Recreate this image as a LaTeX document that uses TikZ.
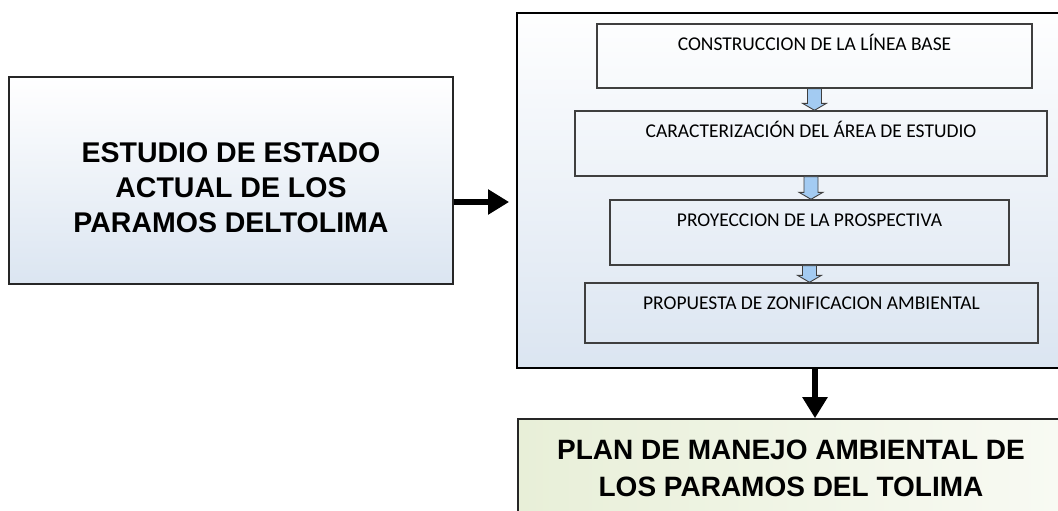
\documentclass[tikz,border=0pt]{standalone}
\usepackage{fontspec}
\setmainfont{Liberation Sans}
\newfontfamily\calibri{Carlito}
\usetikzlibrary{calc,arrows.meta}

\definecolor{paleblue}{HTML}{DBE5F1}
\definecolor{palegreen}{HTML}{E8EFD8}
\definecolor{edgegray}{HTML}{3F3F3F}
\definecolor{tipblue}{HTML}{A3CBF2}

\tikzset{
  studybox/.style={draw=black!85, line width=1.6pt, top color=white, bottom color=paleblue, inner sep=0pt},
  framebox/.style={draw=black, line width=1.8pt, top color=white!97!paleblue, bottom color=paleblue, inner sep=0pt},
  stagebox/.style={draw=edgegray, line width=1.4pt, inner sep=0pt},
  planbox/.style={draw=black!85, line width=1.6pt, left color=palegreen, right color=white!70!palegreen, inner sep=0pt},
  titletext/.style={anchor=center, align=center, font=\bfseries\fontsize{28.5}{35}\selectfont},
  stagetext/.style={anchor=north, inner sep=0pt, text height=14pt, text depth=4pt, font=\calibri\fontsize{19.5}{22}\selectfont, yshift=-13.3pt},
  bigarrow/.style={line width=6.5pt, -{Triangle[length=21pt,width=24pt]}},
  smallarrow/.style={draw=edgegray, line width=0.9pt, fill=tipblue, line join=miter}
}

\begin{document}
\begin{tikzpicture}[x=1pt,y=-1pt]
  \useasboundingbox (0,0) rectangle (1058,511);
  \clip (0,0) rectangle (1058,511);

  % left box
  \node[studybox, minimum width=444pt, minimum height=207pt,
    label={[titletext, yshift=-7pt]center:ESTUDIO DE ESTADO\\ACTUAL DE LOS\\PARAMOS DELTOLIMA}]
    (estudio) at (231,180.5) {};

  % frame with the four stages
  \node[framebox, minimum width=596pt, minimum height=355pt] (procesos) at (815,190.5) {};

  \node[stagebox, minimum width=435pt, minimum height=64pt,
    label={[stagetext]north:CONSTRUCCION DE LA LÍNEA BASE}] (linea) at (814.5,56) {};
  \node[stagebox, minimum width=472pt, minimum height=65pt,
    label={[stagetext]north:CARACTERIZACIÓN DEL ÁREA DE ESTUDIO}] (caract) at (811,143.5) {};
  \node[stagebox, minimum width=399pt, minimum height=65pt,
    label={[stagetext]north:PROYECCION DE LA PROSPECTIVA}] (proyec) at (809.5,232.5) {};
  \node[stagebox, minimum width=453pt, minimum height=60pt,
    label={[stagetext]north:PROPUESTA DE ZONIFICACION AMBIENTAL}] (zonif) at (811.5,313) {};

  % small arrows between stages
  \foreach \a/\b in {linea/caract, caract/proyec, proyec/zonif}{
    \draw[smallarrow] ($(\a.south)+(-7,0)$) -- ($(\a.south |- \b.north)+(-7,-7)$)
      -- ($(\a.south |- \b.north)+(-12,-7)$) -- (\a.south |- \b.north)
      -- ($(\a.south |- \b.north)+(12,-7)$) -- ($(\a.south |- \b.north)+(7,-7)$)
      -- ($(\a.south)+(7,0)$) -- cycle;
  }

  % bottom box
  \node[planbox, minimum width=546pt, minimum height=96pt,
    label={[titletext, font=\bfseries\fontsize{28}{37}\selectfont, yshift=-1pt]center:PLAN DE MANEJO AMBIENTAL DE\\LOS PARAMOS DEL TOLIMA}]
    (plan) at (791,467) {};

  % connectors
  \draw[bigarrow, shorten >=7pt] ([yshift=-21.5pt]estudio.east) -- ([yshift=-21.5pt]estudio.east -| procesos.west);
  \draw[bigarrow] (procesos.south) -- (procesos.south |- plan.north);
\end{tikzpicture}
\end{document}
